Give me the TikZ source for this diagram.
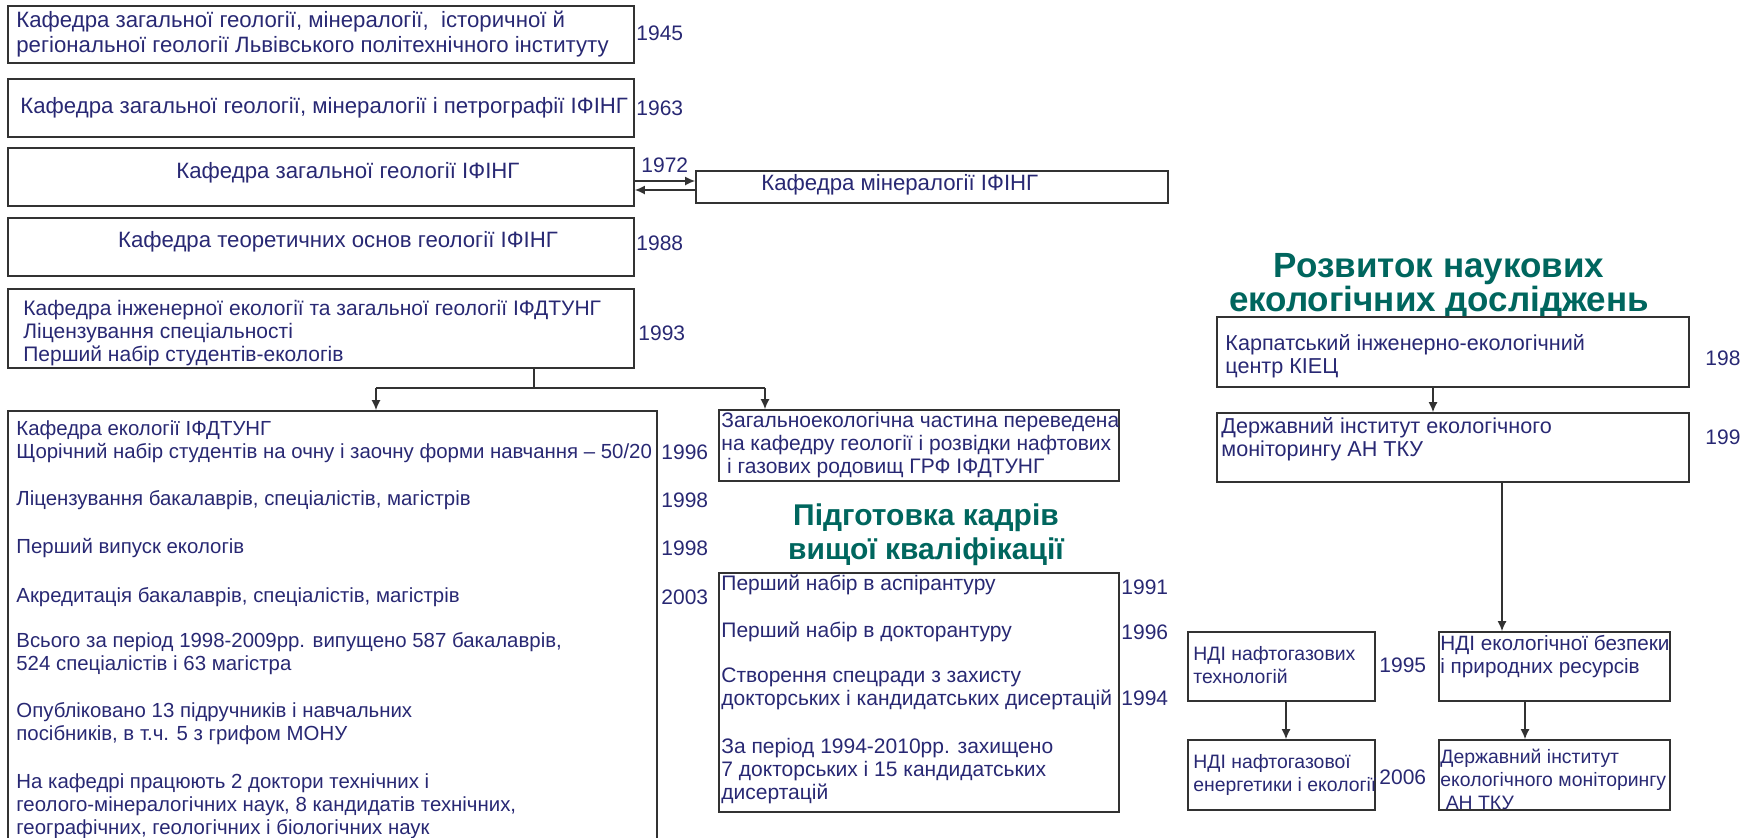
\documentclass[tikz,border=0pt]{standalone}
\usepackage{fontspec}
\setmainfont{Liberation Sans}
\usetikzlibrary{arrows.meta,calc,fit}

\definecolor{ink}{RGB}{40,40,115}
\definecolor{headteal}{RGB}{0,102,94}
\definecolor{frame}{RGB}{50,50,50}

\begin{document}
\begin{tikzpicture}[x=0.5pt,y=-0.5pt]

\tikzset{
  box/.style={draw=frame, line width=0.8pt, inner sep=0pt, fit={#1}},
  txt/.style={text=ink, inner sep=0pt, anchor=west, align=left,
    font=\fontsize{10.5}{11.5}\selectfont},
  bigtxt/.style={txt, font=\fontsize{11.1}{12.5}\selectfont},
  smalltxt/.style={txt, font=\fontsize{10.2}{11.5}\selectfont},
  tinytxt/.style={txt, font=\fontsize{9.7}{11.5}\selectfont},
  year/.style={text=ink, inner sep=0pt, anchor=west,
    font=\fontsize{10.5}{11.5}\selectfont},
  head/.style={text=headteal, inner sep=0pt, align=center,
    font=\fontsize{15}{17}\selectfont\bfseries},
  arrow/.style={-{Latex[length=5pt,width=4.5pt]}, draw=frame, line width=0.8pt},
  link/.style={draw=frame, line width=0.8pt}
}

\clip (0,0) rectangle (1740,837);

% --------------------
% Department history (left column)
% --------------------
\node[box={(8,6) (634,63)}] (b1) {};
\node[bigtxt] (t1) at (16,34.5)
  {Кафедра загальної геології, мінералогії,\ \ історичної й\\регіональної геології Львівського політехнічного інституту};
\node[year] (y1) at (636,33) {1945};

\node[box={(8,79) (634,137)}] (b2) {};
\node[bigtxt] (t2) at (20,108) {Кафедра загальної геології, мінералогії і петрографії ІФІНГ};
\node[year] (y2) at (636,108) {1963};

\node[box={(8,148) (634,206)}] (b3) {};
\node[bigtxt, anchor=center] (t3) at (348,173) {Кафедра загальної геології ІФІНГ};
\node[year] (y3) at (641,165) {1972};

\node[box={(696,171) (1168,203)}] (min) {};
\node[bigtxt] (tmin) at (761,185) {Кафедра мінералогії ІФІНГ};

\node[box={(8,218) (634,276)}] (b4) {};
\node[bigtxt, anchor=center] (t4) at (338,242) {Кафедра теоретичних основ геології ІФІНГ};
\node[year] (y4) at (636,243) {1988};

\node[box={(8,289) (634,368)}] (b5) {};
\node[txt] (t5) at (23,333)
  {Кафедра інженерної екології та загальної геології ІФДТУНГ\\Ліцензування спеціальності\\Перший набір студентів-екологів};
\node[year] (y5) at (638,333) {1993};

% --------------------
% Ecology department (big box, runs off the page)
% --------------------
\node[box={(8,411) (657,860)}] (b6) {};
\node[smalltxt] (p1) at (16,442)
  {Кафедра екології ІФДТУНГ\\Щорічний набір студентів на очну і заочну форми навчання – 50/20};
\node[smalltxt] (p2) at (16,500) {Ліцензування бакалаврів, спеціалістів, магістрів};
\node[smalltxt] (p3) at (16,548) {Перший випуск екологів};
\node[smalltxt] (p4) at (16,597) {Акредитація бакалаврів, спеціалістів, магістрів};
\node[smalltxt] (p5) at (16,653.5)
  {Всього за період 1998-2009рр. випущено 587 бакалаврів,\\524 спеціалістів і 63 магістра};
\node[smalltxt] (p6) at (16,723.5)
  {Опубліковано 13 підручників і навчальних\\посібників, в т.ч. 5 з грифом МОНУ};
\node[smalltxt] (p7) at (16,806)
  {На кафедрі працюють 2 доктори технічних і\\геолого-мінералогічних наук, 8 кандидатів технічних,\\географічних, геологічних і біологічних наук};
\node[year] (q1) at (661,452) {1996};
\node[year] (q2) at (661,500) {1998};
\node[year] (q3) at (661,548) {1998};
\node[year] (q4) at (661,597) {2003};

% --------------------
% Middle column
% --------------------
\node[box={(719,410) (1119,481)}] (g1) {};
\node[txt] (tg1) at (721,445)
  {Загальноекологічна частина переведена\\на кафедру геології і розвідки нафтових\\\ і газових родовищ ГРФ ІФДТУНГ};

\node[head] (h1) at (926,535) {Підготовка кадрів\\вищої кваліфікації};

\node[box={(719,573) (1119,812)}] (g2) {};
\node[txt] (s1) at (721,585) {Перший набір в аспірантуру};
\node[txt] (s2) at (721,632) {Перший набір в докторантуру};
\node[txt] (s3) at (721,689) {Створення спецради з захисту\\докторських і кандидатських дисертацій};
\node[txt] (s4) at (721,771.5) {За період 1994-2010рр. захищено\\7 докторських і 15 кандидатських\\дисертацій};
\node[year] (z1) at (1121,587) {1991};
\node[year] (z2) at (1121,632) {1996};
\node[year] (z3) at (1121,698) {1994};

% --------------------
% Research institutes (right column)
% --------------------
\node[head, font=\fontsize{17.5}{16}\selectfont\bfseries] (h2) at (1439,286)
  {Розвиток наукових\\екологічних досліджень};

\node[box={(1217,317) (1689,387)}] (r1) {};
\node[txt, font=\fontsize{10.8}{11.5}\selectfont] (tr1) at (1225,356)
  {Карпатський інженерно-екологічний\\центр КІЕЦ};
\node[year] (w1) at (1705,358) {198};

\node[box={(1217,413) (1689,482)}] (r2) {};
\node[txt, font=\fontsize{10.8}{11.5}\selectfont] (tr2) at (1221,439)
  {Державний інститут екологічного\\моніторингу АН ТКУ};
\node[year] (w2) at (1705,437) {199};

\node[box={(1188,632) (1375,701)}] (r4) {};
\node[tinytxt] (tr4) at (1193,665) {НДІ нафтогазових\\технологій};
\node[year] (w4) at (1379,665) {1995};

\node[box={(1439,632) (1670,701)}] (r3) {};
\node[txt, font=\fontsize{10.35}{11.5}\selectfont] (tr3) at (1440,656.5)
  {НДІ екологічної безпеки\\і природних ресурсів};

\node[box={(1188,740) (1375,810)}] (r5) {};
\node[tinytxt] (tr5) at (1193,775) {НДІ нафтогазової\\енергетики і екології};
\node[year] (w5) at (1379,777) {2006};

\node[box={(1439,740) (1670,810)}] (r6) {};
\node[tinytxt] (tr6) at (1440,779) {Державний інститут\\екологічного моніторингу\\\ АН ТКУ};

% --------------------
% Connectors
% --------------------
\draw[arrow] (b3.east |- 0,181) -- (min.west |- 0,181);
\draw[arrow] (min.west |- 0,190) -- (b3.east |- 0,190);

\coordinate (split) at (534,388);
\coordinate (jl) at (376,388);
\coordinate (jr) at (765,388);
\draw[link] (b5.south -| split) -- (split);
\draw[link] (jl) -- (jr);
\draw[arrow] (jl) -- (b6.north -| jl);
\draw[arrow] (jr) -- (g1.north -| jr);

\draw[arrow] (r1.south -| 1433,0) -- (r2.north -| 1433,0);
\draw[arrow] (r2.south -| 1502,0) -- (r3.north -| 1502,0);
\draw[arrow] (r4.south -| 1286,0) -- (r5.north -| 1286,0);
\draw[arrow] (r3.south -| 1525,0) -- (r6.north -| 1525,0);

\end{tikzpicture}
\end{document}
